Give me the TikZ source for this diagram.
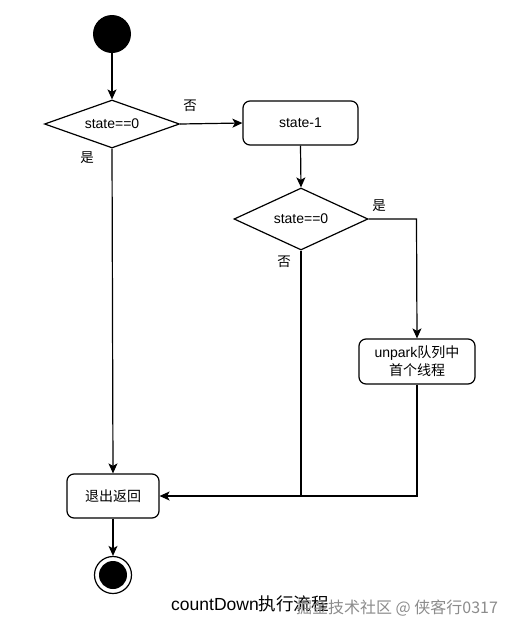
\documentclass[tikz,border=0pt]{standalone}
\usepackage{fontspec}
\setmainfont{Liberation Sans}
\newfontfamily\cjk{Noto Sans CJK SC}
\usetikzlibrary{shapes.geometric,arrows.meta}
\tikzset{
  flow/.style={draw=black, line width=1.2pt, -{Stealth[length=10pt,width=9pt,inset=2.5pt]}},
  plain/.style={draw=black, line width=1.2pt},
  actbox/.style={draw=black, line width=1.2pt, rounded corners=7pt, align=center, inner sep=0pt, font=\fontsize{14pt}{18pt}\selectfont},
  decbox/.style={draw=black, line width=1.2pt, diamond, aspect=2.8, inner sep=0pt, font=\fontsize{14pt}{17pt}\selectfont},
  lbl/.style={font=\cjk\fontsize{13.5pt}{15pt}\selectfont, inner sep=0pt},
}
\begin{document}
\begin{tikzpicture}[x=1pt,y=-1pt]
\useasboundingbox (0,0) rectangle (515,635);
\fill[white] (0,0) rectangle (515,635);
\node[circle, fill=black, minimum size=38pt, inner sep=0pt] (start) at (112,34) {};
\node[decbox, minimum width=135pt, minimum height=48pt] (d1) at (112,124) {state==0};
\node[actbox, minimum width=115pt, minimum height=44pt] (s1) at (300.5,123) {state-1};
\node[decbox, minimum width=134pt, minimum height=62pt] (d2) at (301,219) {state==0};
\node[actbox, minimum width=116pt, minimum height=45pt] (up) at (417,361.5) {unpark{\cjk 队列中}\\{\cjk 首个线程}};
\node[actbox, minimum width=92pt, minimum height=44pt] (ex) at (113,496) {\cjk 退出返回};
\node[circle, draw=black, line width=1.2pt, minimum size=37pt, inner sep=0pt] (end) at (113,575) {};
\fill[black] (end.center) circle (14pt);
\coordinate (c1) at (416.5,219);
\coordinate (c2) at (301,496);
\coordinate (c3) at (417,496);

\draw[flow] (start) -- (d1.north);
\draw[flow] (d1.east) -- (s1.west);
\draw[flow] (s1.south) -- (d2.north);
\draw[flow] (d2.east) -- (c1) -- (up.north);
\draw[flow] (d1.south) -- (ex.north);
\draw[flow] (d2.south) -- (c2) -- (ex.east);
\draw[plain] (up.south) -- (c3) -- (c2);
\draw[flow] (ex.south) -- (end.north);

\node[lbl] (l1) at (190,106) {否};
\node[lbl] (l2) at (87,158) {是};
\node[lbl] (l3) at (379,206) {是};
\node[lbl] (l4) at (284,262) {否};
\node[font=\fontsize{17.5pt}{20pt}\selectfont, inner sep=0pt] (cap) at (250,604) {countDown{\cjk 执行流程}};
\node[font=\cjk\fontsize{16pt}{18pt}\selectfont, text=black!45, inner sep=0pt] (wm) at (397,608) {掘金技术社区 @ 侠客行0317};
\end{tikzpicture}
\end{document}
